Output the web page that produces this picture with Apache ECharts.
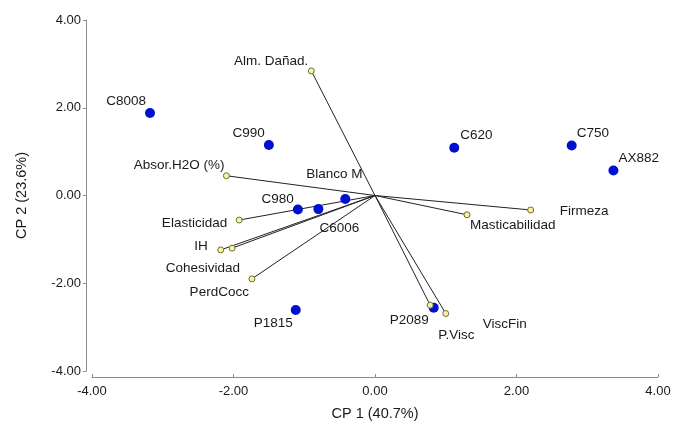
<!DOCTYPE html>
<html>
<head>
<meta charset="utf-8">
<script src="https://cdn.jsdelivr.net/npm/echarts@6/dist/echarts.min.js"></script>
<style>
  html, body { margin: 0; padding: 0; background: #fff; }
  #chart { width: 674px; height: 423px; }
</style>
</head>
<body>
<div id="chart"></div>
<script>
// observaciones (cultivares) - CP1, CP2
const obsNames = ['C8008', 'C990', 'C620', 'C750', 'AX882', 'C980', 'C6006', 'Blanco M', 'P1815', 'P2089'];
const obsCP1 = [-3.18, -1.50, 1.12, 2.78, 3.37, -1.09, -0.80, -0.42, -1.12, 0.83];
const obsCP2 = [1.88, 1.15, 1.09, 1.14, 0.57, -0.32, -0.31, -0.08, -2.61, -2.56];

// variables (vectores)
const varNames = ['Alm. Dañad.', 'Absor.H2O (%)', 'Elasticidad', 'IH', 'Cohesividad', 'PerdCocc',
  'Firmeza', 'Masticabilidad', 'P.Visc', 'ViscFin'];
const varCP1 = [-0.90, -2.10, -1.92, -2.18, -2.02, -1.74, 2.20, 1.30, 0.78, 1.00];
const varCP2 = [2.84, 0.45, -0.56, -1.24, -1.20, -1.90, -0.33, -0.44, -2.50, -2.69];

const axisTicks = [-4, -2, 0, 2, 4];

// donde va cada etiqueta: [align, dx, dy] en px respecto al punto
const labelAt = {
  'C8008': ['right', -4, -12],
  'C990': ['right', -4, -12],
  'C620': ['left', 6, -12],
  'C750': ['left', 5, -12],
  'AX882': ['left', 5, -12],
  'C980': ['right', -4, -10],
  'C6006': ['left', 1, 19],
  'Blanco M': ['center', -11, -25],
  'P1815': ['right', -3, 13],
  'P2089': ['right', -5, 12],
  'Alm. Dañad.': ['right', -3, -10],
  'Absor.H2O (%)': ['right', -2, -10],
  'Elasticidad': ['right', -12, 3],
  'IH': ['right', -13, -4],
  'Cohesividad': ['right', 8, 20],
  'PerdCocc': ['right', -3, 13],
  'Firmeza': ['left', 29, 1],
  'Masticabilidad': ['left', 3, 10],
  'P.Visc': ['left', 8, 30],
  'ViscFin': ['left', 37, 11]
};

const font = 'Liberation Sans, Arial, sans-serif';

function withLabel(name, value) {
  const p = labelAt[name];
  return {
    name: name,
    value: value,
    label: {
      show: true,
      position: 'inside',
      align: p[0],
      verticalAlign: 'middle',
      offset: [p[1], p[2]],
      formatter: '{b}',
      color: '#1a1a1a',
      fontSize: 13.5,
      fontFamily: font,
      textBorderWidth: 0
    }
  };
}

const obsData = obsNames.map((n, i) => withLabel(n, [obsCP1[i], obsCP2[i]]));
const varData = varNames.map((n, i) => withLabel(n, [varCP1[i], varCP2[i]]));
const vecData = varNames.map((n, i) => ({ coords: [[0, 0], [varCP1[i], varCP2[i]]] }));

const dom = document.getElementById('chart');
const myChart = echarts.init(dom, null, { renderer: 'canvas' });

const axisCommon = {
  type: 'value',
  min: axisTicks[0],
  max: axisTicks[axisTicks.length - 1],
  interval: 2,
  offset: 6,
  splitLine: { show: false },
  axisLine: { show: true, onZero: false, lineStyle: { color: '#8c8c8c', width: 1 } },
  axisLabel: {
    color: '#1a1a1a',
    fontSize: 13,
    fontFamily: font,
    formatter: v => v.toFixed(2)
  },
  nameLocation: 'middle',
  nameTextStyle: { color: '#1a1a1a', fontSize: 14.5, fontFamily: font }
};

const option = {
  animation: false,
  backgroundColor: '#fff',
  grid: { left: 92, right: 16, top: 20, bottom: 52, containLabel: false, outerBoundsMode: 'none' },
  xAxis: Object.assign({}, axisCommon, {
    name: 'CP 1 (40.7%)',
    nameGap: 29,
    axisTick: { show: true, inside: true, length: 3, lineStyle: { color: '#8c8c8c' } },
    axisLabel: Object.assign({}, axisCommon.axisLabel, { margin: 8 })
  }),
  yAxis: Object.assign({}, axisCommon, {
    name: 'CP 2 (23.6%)',
    nameGap: 57,
    axisTick: { show: true, length: 3, lineStyle: { color: '#8c8c8c' } },
    axisLabel: Object.assign({}, axisCommon.axisLabel, { margin: 5 })
  }),
  series: [
    {
      name: 'vectores',
      type: 'lines',
      coordinateSystem: 'cartesian2d',
      silent: true,
      lineStyle: { color: '#222', width: 1, opacity: 1 },
      data: vecData,
      z: 1
    },
    {
      name: 'observaciones',
      type: 'scatter',
      symbol: 'circle',
      symbolSize: 10,
      itemStyle: { color: '#0010d0', opacity: 1 },
      data: obsData,
      z: 2
    },
    {
      name: 'variables',
      type: 'scatter',
      symbol: 'circle',
      symbolSize: 6,
      itemStyle: { color: '#f6f4a0', borderColor: '#6d6d3a', borderWidth: 1, opacity: 1 },
      data: varData,
      z: 3
    }
  ]
};

myChart.setOption(option);
</script>
</body>
</html>
